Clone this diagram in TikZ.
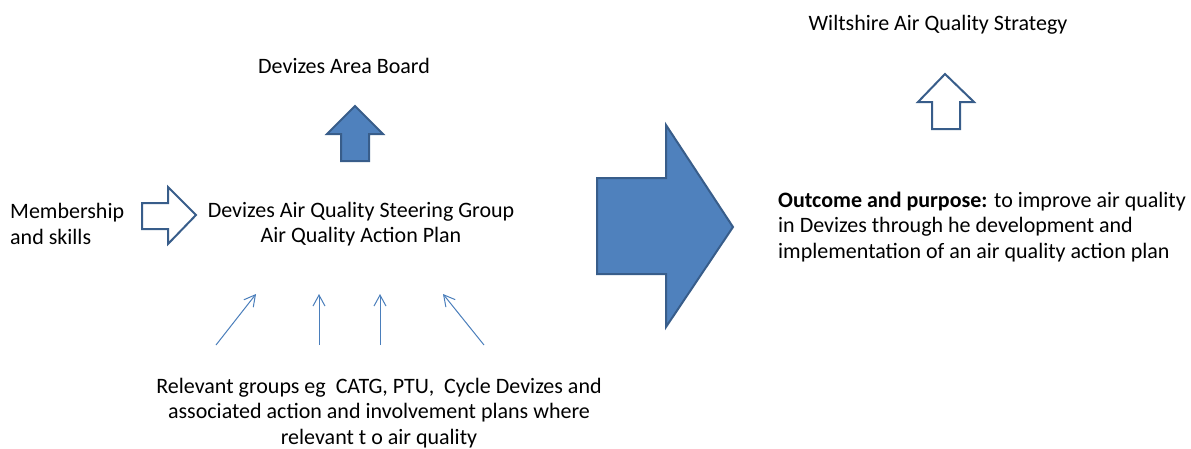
\documentclass[tikz,border=0pt]{standalone}
\usepackage{fontspec}
\setmainfont{Carlito}
\usepackage{tikz}
\usetikzlibrary{arrows,arrows.meta,positioning,calc}
\definecolor{blockfill}{HTML}{4F81BD}
\definecolor{blockline}{HTML}{385D8A}
\definecolor{thinline}{HTML}{4A7EBB}
\tikzset{every node/.append style={font=\fontsize{22}{25.5}\selectfont,inner sep=0pt},
  txt/.style={align=center},
  solidarrow/.style={draw=blockline,fill=blockfill,line width=2pt,line join=miter},
  openarrow/.style={draw=blockline,fill=white,line width=2pt,line join=miter},
  feed/.style={draw=thinline,line width=1pt,-{Straight Barb[length=11pt,width=12pt,line width=1pt]}}}

\begin{document}
\begin{tikzpicture}[x=1pt,y=-1pt]
        \useasboundingbox (0,0) rectangle (1191,448);
        % text
        \node[txt] (wilts) at (938,25) {Wiltshire Air Quality Strategy};
        \node[txt] (board) at (344,66) {Devizes Area Board};
        \node[align=left,anchor=west] (members) at (10,224) {Membership\\and skills};
        \node[txt] (steer) at (361,224) {Devizes Air Quality Steering Group\\Air Quality Action Plan};
        \node[txt] (groups) at (379,413) {Relevant groups eg\ \ CATG, PTU,\ \ Cycle Devizes and\\associated action and involvement plans where\\relevant t o air quality};
        \node[align=left,anchor=west] (outcome) at (778,227) {\textbf{Outcome and purpose:} to improve air quality\\in Devizes through he development and\\implementation of an air quality action plan};
        % block arrows
        \draw[solidarrow] (341,161) -- (341,134) -- (327,134) -- (355,106) -- (383,134) -- (369,134) -- (369,161) -- cycle;
        \draw[openarrow] (142,203) -- (168,203) -- (168,187) -- (196,215) -- (168,244) -- (168,229) -- (142,229) -- cycle;
        \draw[solidarrow] (597,178) -- (666,178) -- (666,125) -- (733,227) -- (666,327) -- (666,274) -- (597,274) -- cycle;
        \draw[openarrow] (932,129) -- (932,102) -- (918,102) -- (945,74) -- (974,102) -- (960,102) -- (960,129) -- cycle;
        % thin arrows
        \coordinate (f1) at (216,345); \coordinate (t1) at (256,294);
        \coordinate (f2) at (319,345); \coordinate (t2) at (319,294);
        \coordinate (f3) at (380,345); \coordinate (t3) at (380,294);
        \coordinate (f4) at (484,345); \coordinate (t4) at (443,294);
        \foreach \i in {1,...,4}
          \draw[feed] (f\i) -- (t\i);
      \end{tikzpicture}
\end{document}
